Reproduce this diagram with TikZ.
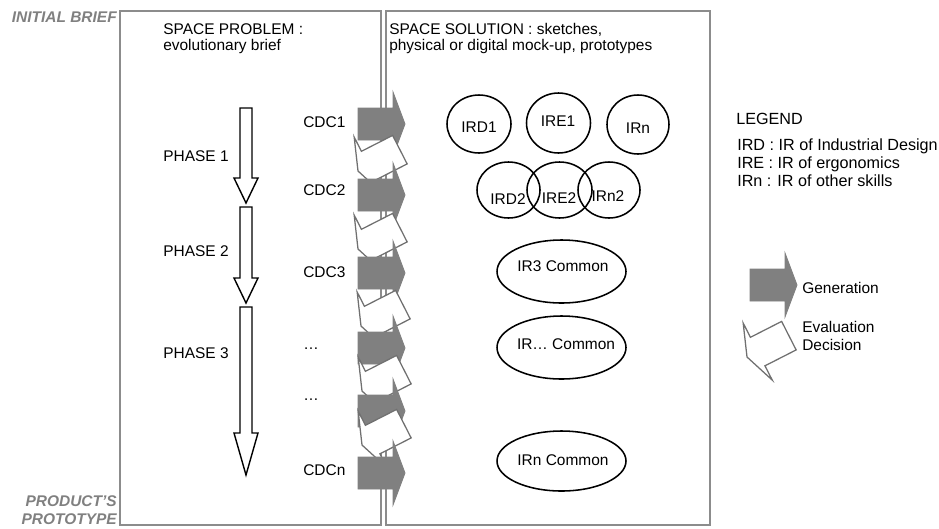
\documentclass[tikz,border=0pt]{standalone}
\usepackage{fontspec}
\setmainfont{Liberation Sans}
\usepackage{xcolor}

\definecolor{framegray}{RGB}{140,140,140}
\definecolor{arrowgray}{RGB}{128,128,128}
\definecolor{linegray}{RGB}{112,112,112}

\tikzset{
  every node/.style={inner sep=0pt, font=\fontsize{11}{11.2}\selectfont},
  frame/.style={draw=framegray, line width=1.2pt},
  phase/.style={draw=black, fill=white, line width=1pt},
  generation/.style={fill=arrowgray, draw=arrowgray, line width=0.6pt},
  evaluation/.style={fill=white, draw=linegray, line width=0.9pt},
  ir/.style={draw=black, line width=1.1pt},
  stage/.style={font=\fontsize{11}{12.4}\selectfont\bfseries\itshape, text=arrowgray},
  legendtext/.style={font=\fontsize{11.5}{12.8}\selectfont},
  keytext/.style={font=\fontsize{11}{12.8}\selectfont},
  pics/blockarrow/.style={code={
    \path[pic actions] (0,0) -- (-12,-32) -- (-12,-16) -- (-47,-16)
      -- (-47,16) -- (-12,16) -- (-12,32) -- cycle;
  }}
}

\begin{document}
\begin{tikzpicture}[x=0.025cm, y=-0.025cm]
  \useasboundingbox (0,0) rectangle (939,528);

  % Problem and solution frames
  \draw[frame] (120,11) rectangle (381,525);
  \draw[frame] (386,11) rectangle (710,525);

  % Start and end of the process
  \node[stage, anchor=base east] (initial) at (117,22) {INITIAL BRIEF};
  \node[stage, anchor=north east, align=right] (prototype) at (117,495.5) {PRODUCT’S\\PROTOTYPE};

  % Headings
  \node[anchor=north west, align=left] (problem) at (163,23.2) {SPACE PROBLEM :\\evolutionary brief};
  \node[anchor=north west, align=left] (solution) at (389,23.2) {SPACE SOLUTION : sketches,\\physical or digital mock-up, prototypes};

  % Phases
  \draw[phase] (240,108) -- (252,108) -- (252,178) -- (258,178) -- (246,203) -- (234,178) -- (240,178) -- cycle;
  \draw[phase] (240,207) -- (252,207) -- (252,278) -- (258,278) -- (246,303) -- (234,278) -- (240,278) -- cycle;
  \draw[phase] (240,307) -- (252,307) -- (252,433) -- (258,433) -- (246,475) -- (234,433) -- (240,433) -- cycle;
  \node[anchor=base west] (phase1) at (163,161.5) {PHASE 1};
  \node[anchor=base west] (phase2) at (163,256.5) {PHASE 2};
  \node[anchor=base west] (phase3) at (163,358) {PHASE 3};

  % Briefs
  \node[anchor=base west] (cdc1) at (303,127.5) {CDC1};
  \node[anchor=base west] (cdc2) at (303,195.5) {CDC2};
  \node[anchor=base west] (cdc3) at (303,277.5) {CDC3};
  \node[anchor=base west] (cdc4) at (303,349) {…};
  \node[anchor=base west] (cdc5) at (303,400.5) {…};
  \node[anchor=base west] (cdcn) at (303,475) {CDCn};

  % Generation and evaluation arrows
  \pic[generation] at (405,124) {blockarrow};
  \pic[evaluation, rotate=207] at (358,171) {blockarrow};
  \pic[generation] at (405,195) {blockarrow};
  \pic[evaluation, rotate=207] at (358,249) {blockarrow};
  \pic[generation] at (405,273) {blockarrow};
  \pic[evaluation, rotate=207] at (361,326) {blockarrow};
  \pic[generation] at (405,348) {blockarrow};
  \pic[evaluation, rotate=207] at (362,391) {blockarrow};
  \pic[generation] at (405,411) {blockarrow};
  \pic[evaluation, rotate=207] at (362,445) {blockarrow};
  \pic[generation] at (405,473) {blockarrow};

  % Intermediate representations
  \draw[ir] (479,124) ellipse [x radius=32, y radius=29];
  \draw[ir] (558.5,123) ellipse [x radius=32, y radius=30];
  \draw[ir] (638,124.5) ellipse [x radius=31, y radius=29.5];
  \node (ird1) at (479,127) {IRD1};
  \node (ire1) at (558,121) {IRE1};
  \node (irn1) at (638,128) {IRn};

  \draw[ir] (508.5,190) ellipse [x radius=31.5, y radius=28];
  \draw[ir] (559.5,190) ellipse [x radius=32.5, y radius=28];
  \draw[ir] (609,190) ellipse [x radius=31, y radius=28];
  \node (ird2) at (508,199) {IRD2};
  \node (ire2) at (559,198) {IRE2};
  \node (irn2) at (608,196) {IRn2};

  \draw[ir] (561.5,271.5) ellipse [x radius=64.5, y radius=31.5];
  \draw[ir] (561.5,347.5) ellipse [x radius=64.5, y radius=31.5];
  \draw[ir] (561.5,461) ellipse [x radius=64.5, y radius=30];
  \node (ir3) at (563,266.5) {IR3 Common};
  \node (irdots) at (566,344.5) {IR… Common};
  \node (irn) at (563,460) {IRn Common};

  % Legend
  \node[legendtext, anchor=base west] (legend) at (736,124) {LEGEND};
  \node[legendtext, anchor=north west, align=left] (abbrev) at (737,138.5)
    {IRD : IR of Industrial Design\\IRE : IR of ergonomics\\IRn : IR of other skills};
  \pic[generation] at (797,285) {blockarrow};
  \pic[evaluation, rotate=207] at (747,357) {blockarrow};
  \node[anchor=base west] (gen) at (802,293) {Generation};
  \node[keytext, anchor=north west, align=left] (eval) at (802,321) {Evaluation\\Decision};
\end{tikzpicture}
\end{document}
